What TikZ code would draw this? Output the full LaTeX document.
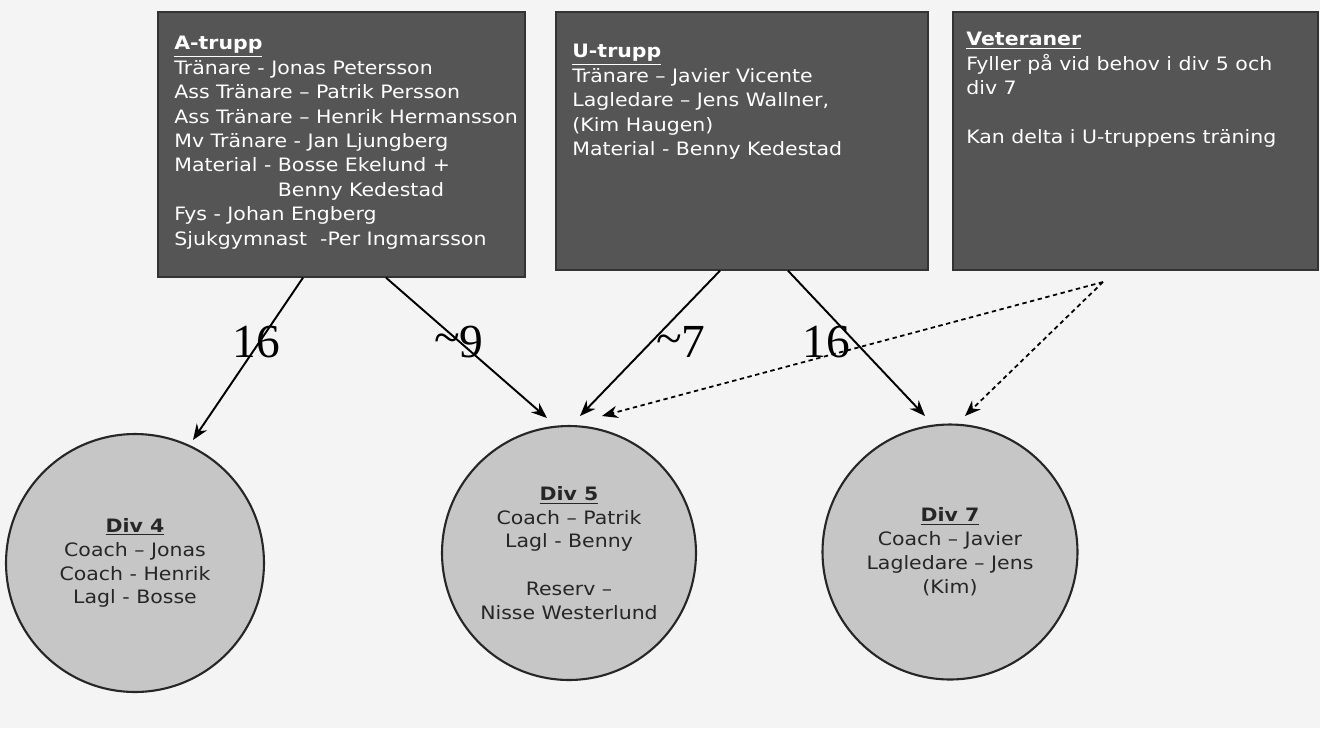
\documentclass[tikz,border=0pt]{standalone}
\usepackage{fontspec}
\setmainfont{DejaVu Sans}[FakeStretch=1.11]
\newfontfamily\numfont{Liberation Serif}
\usetikzlibrary{arrows.meta,calc}
\definecolor{boxgray}{HTML}{555555}
\definecolor{divgray}{HTML}{C6C6C6}
\definecolor{paper}{HTML}{F4F4F4}
\tikzset{
  teambox/.style={draw=black!80,fill=boxgray,line width=0.8pt,inner sep=0pt},
  teamtext/.style={anchor=north west,inner sep=0pt,text=white,align=left,
    font=\fontsize{10.5}{13.9}\selectfont},
  divcircle/.style={circle,draw=black!85,fill=divgray,line width=1.2pt,inner sep=0pt,
    align=center,text=black!85,font=\fontsize{10.5}{13.6}\selectfont},
  link/.style={line width=1.1pt,-{Stealth[length=9pt,width=7pt]}},
  vetlink/.style={link,line width=1pt,dash pattern=on 2.5pt off 2pt},
  countlabel/.style={inner sep=0pt,font=\numfont\fontsize{27}{30}\selectfont}
}
\begin{document}
\begin{tikzpicture}[x=0.02cm,y=-0.02cm]
  \fill[paper] (0,0) rectangle (1320,728);
  \useasboundingbox (0,0) rectangle (1320,728);

  \node[teambox,minimum width=7.34cm,minimum height=5.3cm] (atrupp) at (341.5,144.5) {};
  \node[teambox,minimum width=7.44cm,minimum height=5.16cm] (utrupp) at (742,141) {};
  \node[teambox,minimum width=7.3cm,minimum height=5.16cm] (veteraner) at (1135.5,141) {};

  \node[teamtext] (atext) at (174,36) {\underline{\textbf{A-trupp}}\\
    Tränare - Jonas Petersson\\
    Ass Tränare – Patrik Persson\\
    Ass Tränare – Henrik Hermansson\\
    Mv Tränare - Jan Ljungberg\\
    Material - Bosse Ekelund +\\
    \phantom{Material - }Benny Kedestad\\
    Fys - Johan Engberg\\
    Sjukgymnast \ -Per Ingmarsson};
  \node[teamtext] (utext) at (572,44) {\underline{\textbf{U-trupp}}\\
    Tränare – Javier Vicente\\
    Lagledare – Jens Wallner,\\
    (Kim Haugen)\\
    Material - Benny Kedestad};
  \node[teamtext] (vtext) at (966,32) {\underline{\textbf{Veteraner}}\\
    Fyller på vid behov i div 5 och\\
    div 7\\[13.9pt]
    Kan delta i U-truppens träning};

  \node[divcircle,minimum size=5.16cm] (div4) at (135,563)
    {\underline{\textbf{Div 4}}\\Coach – Jonas\\Coach - Henrik\\Lagl - Bosse};
  \node[divcircle,minimum size=5.08cm] (div5) at (569,553)
    {\underline{\textbf{Div 5}}\\Coach – Patrik\\Lagl - Benny\\[13.6pt]Reserv –\\Nisse Westerlund};
  \node[divcircle,minimum size=5.1cm] (div7) at (950,552)
    {\underline{\textbf{Div 7}}\\Coach – Javier\\Lagledare – Jens\\(Kim)};

  \coordinate (in4) at (193,440);
  \coordinate (in5a) at (547,418);
  \coordinate (in5b) at (580,416);
  \coordinate (in5c) at (602,416);
  \coordinate (in7a) at (925,416);
  \coordinate (in7b) at (965,416);
  \coordinate (vetout) at (1103,282);

  \draw[link] ($(atrupp.south)+(-38.5,0)$) -- (in4);
  \draw[link] ($(atrupp.south)+(44.5,0)$) -- (in5a);
  \draw[link] ($(utrupp.south)+(-22,0)$) -- (in5b);
  \draw[link] ($(utrupp.south)+(46,0)$) -- (in7a);
  \draw[vetlink] (vetout) -- (in5c);
  \draw[vetlink] (vetout) -- (in7b);

  \node[countlabel] (n16a) at (256,342) {16};
  \node[countlabel] (n9) at (459,342) {\raisebox{2pt}{\~{}}9};
  \node[countlabel] (n7) at (681,342) {\raisebox{2pt}{\~{}}7};
  \node[countlabel] (n16b) at (826,342) {16};
\end{tikzpicture}
\end{document}
